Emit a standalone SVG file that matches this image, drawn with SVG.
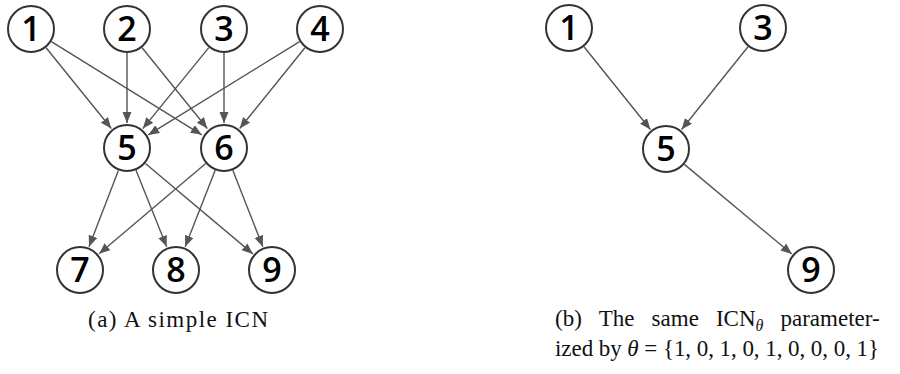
<svg xmlns="http://www.w3.org/2000/svg" width="900" height="374" viewBox="0 0 900 374">
<style>
.node circle{fill:#fff;stroke:#333;stroke-width:2}
.node text{font-family:"Open Sans","Noto Sans",sans-serif;font-weight:600;font-size:34px;fill:#000;text-anchor:middle}
#edges line{stroke:#555;stroke-width:1.4;marker-end:url(#ah)}
.cap{font-family:"Liberation Serif","DejaVu Serif",serif;font-size:23px;fill:#111}
</style>
<defs>
<marker id="ah" markerUnits="userSpaceOnUse" markerWidth="12" markerHeight="10" refX="11" refY="4.5" orient="auto">
<path d="M0,0 L11,4.5 L0,9 z" fill="#555"/>
</marker>
</defs>
<g id="edges">
<line x1="46.1" y1="47.7" x2="111.3" y2="128.5"/>
<line x1="51.4" y1="41.6" x2="201.8" y2="134.8"/>
<line x1="127" y1="53" x2="127" y2="123"/>
<line x1="142.1" y1="47.7" x2="207.3" y2="128.5"/>
<line x1="208.8" y1="47.6" x2="142.8" y2="128.6"/>
<line x1="224" y1="53" x2="224" y2="123"/>
<line x1="299.6" y1="41.6" x2="148.3" y2="134.9"/>
<line x1="304.9" y1="47.7" x2="239.7" y2="128.5"/>
<line x1="118.4" y1="170.4" x2="89" y2="246.7"/>
<line x1="136" y1="170.3" x2="166.7" y2="246.8"/>
<line x1="145.4" y1="163.5" x2="252.9" y2="253.9"/>
<line x1="205.7" y1="163.5" x2="99.1" y2="253.8"/>
<line x1="215.2" y1="170.3" x2="185.2" y2="246.7"/>
<line x1="232.8" y1="170.3" x2="262.8" y2="246.7"/>
<line x1="584" y1="46.7" x2="650.4" y2="129.5"/>
<line x1="748" y1="46.7" x2="681.6" y2="129.5"/>
<line x1="684.4" y1="164.4" x2="791.8" y2="254"/>
</g>
<g id="a1" class="node"><circle cx="31" cy="29" r="23"/><text x="31" y="41">1</text></g>
<g id="a2" class="node"><circle cx="127" cy="29" r="23"/><text x="127" y="41">2</text></g>
<g id="a3" class="node"><circle cx="224" cy="29" r="23"/><text x="224" y="41">3</text></g>
<g id="a4" class="node"><circle cx="320" cy="29" r="23"/><text x="320" y="41">4</text></g>
<g id="a5" class="node"><circle cx="127" cy="148" r="23"/><text x="127" y="160">5</text></g>
<g id="a6" class="node"><circle cx="224" cy="148" r="23"/><text x="224" y="160">6</text></g>
<g id="a7" class="node"><circle cx="80" cy="270" r="23"/><text x="80" y="282">7</text></g>
<g id="a8" class="node"><circle cx="176" cy="270" r="23"/><text x="176" y="282">8</text></g>
<g id="a9" class="node"><circle cx="272" cy="270" r="23"/><text x="272" y="282">9</text></g>
<g id="b1" class="node"><circle cx="569" cy="28" r="23"/><text x="569" y="40">1</text></g>
<g id="b3" class="node"><circle cx="763" cy="28" r="23"/><text x="763" y="40">3</text></g>
<g id="b5" class="node"><circle cx="666" cy="149" r="23"/><text x="666" y="161">5</text></g>
<g id="b9" class="node"><circle cx="811" cy="270" r="23"/><text x="811" y="282">9</text></g>
<text class="cap" x="88" y="327" textLength="180" lengthAdjust="spacing">(a) A simple ICN</text>
<text class="cap" y="326"><tspan x="555">(b)</tspan><tspan x="598.8">The</tspan><tspan x="651.6">same</tspan><tspan x="715.9">ICN</tspan><tspan font-style="italic" font-size="16" dy="5">θ</tspan><tspan x="780.5" dy="-5">parameter-</tspan></text>
<text class="cap" x="555" y="356" textLength="324" lengthAdjust="spacing">ized by <tspan font-style="italic">θ</tspan> = {1, 0, 1, 0, 1, 0, 0, 0, 1}</text>
</svg>
